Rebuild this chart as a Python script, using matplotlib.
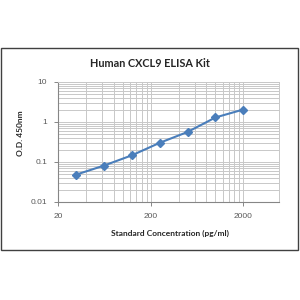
import matplotlib.pyplot as plt
import numpy as np
from matplotlib.patches import Rectangle

# standard curve values
conc = [31.25, 62.5, 125, 250, 500, 1000, 2000]
od = [0.048, 0.081, 0.146, 0.30, 0.56, 1.29, 2.04]

xMajor = [20, 200, 2000]
xMajorLabels = ["20", "200", "2000"]
yMajor = [0.01, 0.1, 1, 10]
yMajorLabels = ["0.01", "0.1", "1", "10"]

plt.rcParams['font.family'] = ['Lato', 'DejaVu Sans']

fig = plt.figure(figsize=(3, 3), dpi=100)
fig.patch.set_facecolor('white')

# outer chart border
fig.patches.append(Rectangle((0.004, 0.167), 0.99, 0.673, transform=fig.transFigure,
                             fill=False, edgecolor='#404040', linewidth=1.0))

ax = fig.add_axes([0.194, 0.327, 0.737, 0.40])
ax.set_xscale('log')
ax.set_yscale('log')
ax.set_xlim(20, 4900)
ax.set_ylim(0.01, 10)

gridColor = '#c8c8c8'
xMinor = [v * m for v in (20, 200) for m in range(2, 10)]
yMinor = [d * m for d in (0.01, 0.1, 1) for m in range(2, 10)]

ax.set_xticks(xMajor)
ax.set_xticklabels(xMajorLabels, family=['Liberation Sans', 'DejaVu Sans'])
ax.set_xticks(xMinor, minor=True)
ax.set_xticklabels([], minor=True)
ax.set_yticks(yMajor)
ax.set_yticklabels(yMajorLabels, family=['Liberation Sans', 'DejaVu Sans'])
ax.set_yticks(yMinor, minor=True)
ax.set_yticklabels([], minor=True)

ax.grid(True, which='both', color=gridColor, linewidth=0.7)
ax.set_axisbelow(True)
ax.tick_params(which='minor', length=0)
ax.tick_params(which='major', length=3, width=0.7, color='#868686',
               labelsize=6, labelcolor='#595959', pad=5)

for side in ('top', 'right'):
    ax.spines[side].set_color(gridColor)
    ax.spines[side].set_linewidth(0.7)
for side in ('left', 'bottom'):
    ax.spines[side].set_color('#868686')
    ax.spines[side].set_linewidth(0.8)

ax.plot(conc, od, color='#4a7ebb', linewidth=1.5, marker='D', markersize=4,
        markerfacecolor='#4a7ebb', markeredgecolor='#4a7ebb', clip_on=False)

fig.text(0.5, 0.787, "Human CXCL9 ELISA Kit", ha='center', va='center',
         fontsize=7.8, fontweight='bold', color='#262626')
fig.text(0.565, 0.222, "Standard Concentration (pg/ml)", ha='center', va='center',
         fontsize=6, fontweight='bold', color='#262626')
fig.text(0.067, 0.557, "O.D. 450nm", ha='center', va='center', rotation=90,
         fontsize=6, fontweight='bold', color='#262626')

fig.savefig('out.png', dpi=100, facecolor='white')
